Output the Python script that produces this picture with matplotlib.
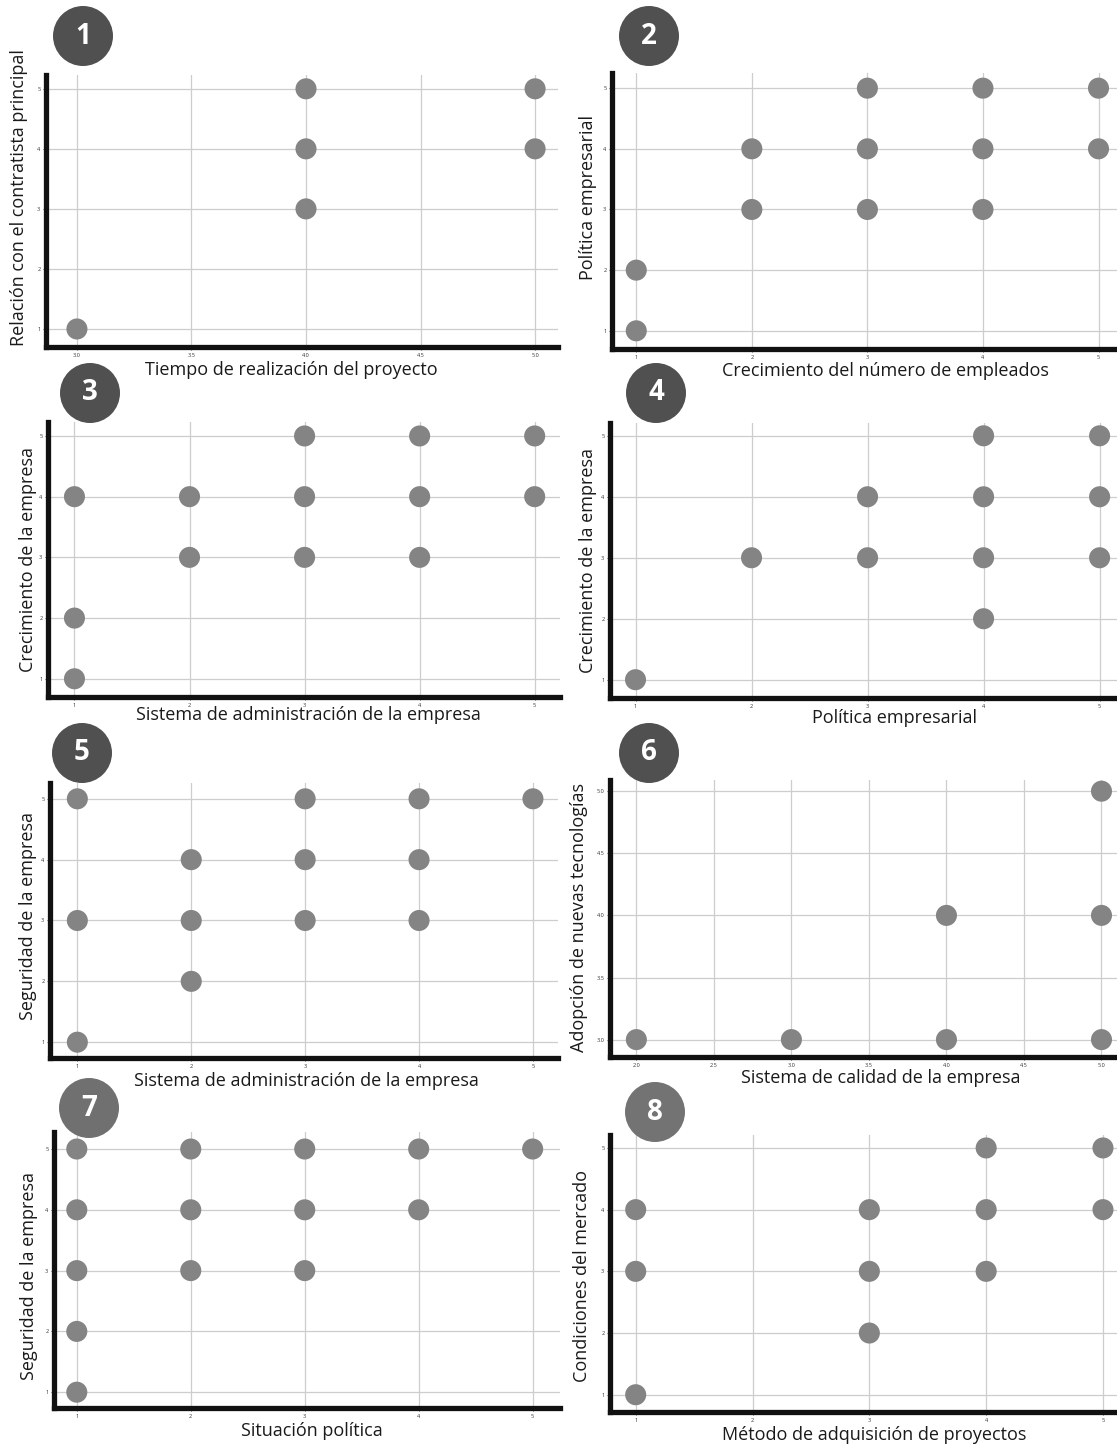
import matplotlib
matplotlib.use("Agg")
import matplotlib.pyplot as plt
from matplotlib.patches import Ellipse

plt.rcParams['font.family'] = ['Open Sans', 'DejaVu Sans']

W, H = 1117, 1447

# ----- Data (one list of x and y per panel) -----
x1 = [3, 4, 4, 4, 5, 5]
y1 = [1, 3, 4, 5, 4, 5]

x2 = [1, 1, 2, 2, 3, 3, 3, 4, 4, 4, 5, 5]
y2 = [1, 2, 3, 4, 3, 4, 5, 3, 4, 5, 4, 5]

x3 = [1, 1, 1, 2, 2, 3, 3, 3, 4, 4, 4, 5, 5]
y3 = [1, 2, 4, 3, 4, 3, 4, 5, 3, 4, 5, 4, 5]

x4 = [1, 2, 3, 3, 4, 4, 4, 4, 5, 5, 5]
y4 = [1, 3, 3, 4, 2, 3, 4, 5, 3, 4, 5]

x5 = [1, 1, 1, 2, 2, 2, 3, 3, 3, 4, 4, 4, 5]
y5 = [1, 3, 5, 2, 3, 4, 3, 4, 5, 3, 4, 5, 5]

x6 = [2, 3, 4, 4, 5, 5, 5]
y6 = [3, 3, 3, 4, 3, 4, 5]

x7 = [1, 1, 1, 1, 1, 2, 2, 2, 3, 3, 3, 4, 4, 5]
y7 = [1, 2, 3, 4, 5, 3, 4, 5, 3, 4, 5, 4, 5, 5]

x8 = [1, 1, 1, 3, 3, 3, 4, 4, 4, 5, 5]
y8 = [1, 3, 4, 2, 3, 4, 3, 4, 5, 4, 5]

xlabels = ["Tiempo de realización del proyecto",
           "Crecimiento del número de empleados",
           "Sistema de administración de la empresa",
           "Política empresarial",
           "Sistema de administración de la empresa",
           "Sistema de calidad de la empresa",
           "Situación política",
           "Método de adquisición de proyectos"]
ylabels = ["Relación con el contratista principal",
           "Política empresarial",
           "Crecimiento de la empresa",
           "Crecimiento de la empresa",
           "Seguridad de la empresa",
           "Adopción de nuevas tecnologías",
           "Seguridad de la empresa",
           "Condiciones del mercado"]

int_ticks = [1, 2, 3, 4, 5]
half_ticks_x1 = [3.0, 3.5, 4.0, 4.5, 5.0]
half_ticks_x6 = [2.0, 2.5, 3.0, 3.5, 4.0, 4.5, 5.0]
half_ticks_y6 = [3.0, 3.5, 4.0, 4.5, 5.0]

xs = [x1, x2, x3, x4, x5, x6, x7, x8]
ys = [y1, y2, y3, y4, y5, y6, y7, y8]
xticks = [half_ticks_x1] + [int_ticks] * 4 + [half_ticks_x6] + [int_ticks] * 2
yticks = [int_ticks] * 5 + [half_ticks_y6] + [int_ticks] * 2

# ----- Layout (pixels) -----
rects = [(46, 75, 558, 347), (612, 73, 1117, 349),
         (48, 422, 560, 697), (610, 423, 1117, 698),
         (50, 783, 558, 1058), (610, 780, 1117, 1057),
         (54, 1132, 560, 1408), (610, 1135, 1117, 1412)]
xlims = [(2.865, 5.10), (0.79, 5.16), (0.77, 5.22), (0.78, 5.15),
         (0.76, 5.22), (1.83, 5.10), (0.80, 5.24), (0.78, 5.12)]
ylims = [(0.70, 5.23), (0.70, 5.25), (0.70, 5.23), (0.70, 5.21),
         (0.74, 5.26), (2.86, 5.09), (0.74, 5.28), (0.72, 5.21)]
# xlabel centre x / top y, ylabel right x / centre y
xlab_pos = [(291, 361), (885, 362), (308, 706), (895, 709),
            (306, 1072), (881, 1069), (312, 1422), (874, 1426)]
ylab_pos = [(28, 198), (597, 197), (37, 560), (597, 560),
            (37, 916), (588, 917), (38, 1276), (591, 1276)]
badges = [(83, 36), (649, 36), (90, 393), (656, 393),
          (82, 753), (649, 753), (89, 1108), (655, 1112)]
badge_colors = ["#505050"] * 6 + ["#707070", "#737373"]

fig = plt.figure(figsize=(W / 100, H / 100), dpi=100)

for i in range(8):
    l, t, r, b = rects[i]
    aw, ah = r - l, b - t
    ax = fig.add_axes([l / W, 1 - b / H, aw / W, ah / H])
    ax.scatter(xs[i], ys[i], s=230, color="#848484", edgecolor="none", zorder=3)
    ax.set_xlim(*xlims[i])
    ax.set_ylim(*ylims[i])
    ax.set_xticks(xticks[i])
    ax.set_yticks(yticks[i])
    if i in (0, 5):
        ax.set_xticklabels([f"{v:.1f}" for v in xticks[i]])
    if i == 5:
        ax.set_yticklabels([f"{v:.1f}" for v in yticks[i]])
    ax.grid(True, color="#cdcdcd", linewidth=0.9, zorder=0)
    ax.set_axisbelow(True)
    for s in ("top", "right"):
        ax.spines[s].set_visible(False)
    for s in ("left", "bottom"):
        ax.spines[s].set_linewidth(3.8)
        ax.spines[s].set_color("#111111")
    ax.tick_params(labelsize=4, length=2.5, width=0.6, colors="#333333", pad=1.5)

    ax.set_xlabel(xlabels[i], fontsize=13, color="#1a1a1a")
    ax.set_ylabel(ylabels[i], fontsize=13, color="#1a1a1a")
    cx, ty = xlab_pos[i]
    ax.xaxis.set_label_coords((cx - l) / aw, (b - ty) / ah)
    rx, cy = ylab_pos[i]
    ax.yaxis.set_label_coords((rx - l) / aw, (b - cy) / ah)

# ----- Numbered badges -----
for i, (bx, by) in enumerate(badges):
    fig.patches.append(Ellipse((bx / W, 1 - by / H), 60 / W, 60 / H,
                               transform=fig.transFigure, facecolor=badge_colors[i],
                               edgecolor="none", zorder=5))
    fig.text(bx / W, 1 - by / H, str(i + 1), color="white", fontsize=20,
             fontweight="bold", ha="center", va="center", zorder=6)

fig.savefig("out.png", dpi=100)
